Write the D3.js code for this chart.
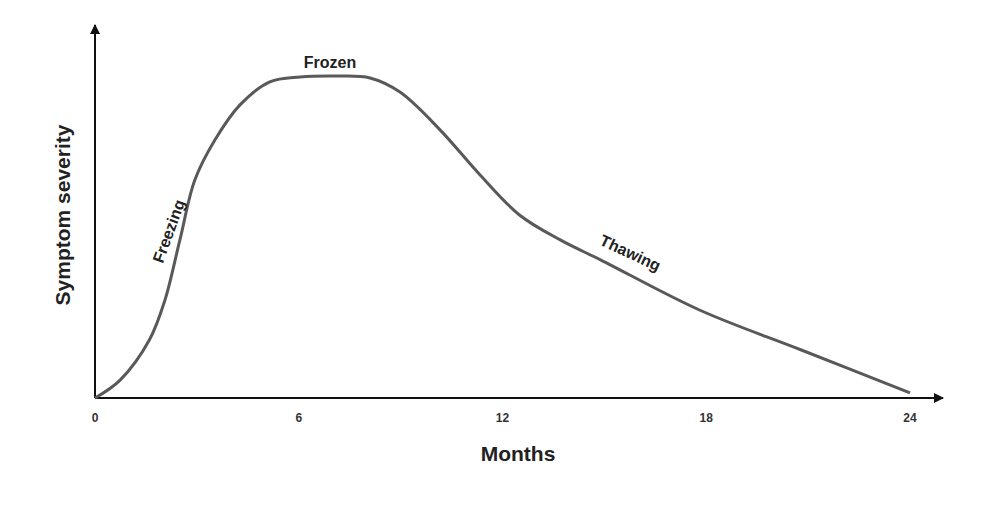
<!DOCTYPE html>
<html><head><meta charset="utf-8">
<script src="https://cdn.jsdelivr.net/npm/d3@7"></script>
<style>body{margin:0;background:#fff}</style>
</head><body>
<svg id="chart" width="1000" height="514"></svg>
<script>
// months and symptom severity (0-100)
var months = [0, 0.74, 1.6, 2.06, 2.5, 2.94, 3.53, 4.27, 5.15, 6.04, 7.2, 8.1, 8.98, 10.16, 11.34, 12.5, 13.7, 14.9, 17.8, 20.8, 24];
var severity = [0, 5.6, 18.1, 30.6, 49.4, 68.1, 80.6, 91.6, 98.8, 100.3, 100.6, 100, 95.6, 83.8, 69.7, 57.2, 49.4, 43.1, 27.5, 15, 1.6];
var tickMonths = [0, 6, 12, 18, 24];

var svg = d3.select('#chart');
var font = 'Arial, "Liberation Sans", sans-serif';
var x = d3.scaleLinear().domain([0, 24]).range([95, 910]);
var y = d3.scaleLinear().domain([0, 100]).range([398, 78]);

svg.append('defs').append('marker')
    .attr('id', 'arr').attr('viewBox', '0 0 10 10').attr('refX', 9).attr('refY', 5)
    .attr('markerWidth', 10).attr('markerHeight', 10).attr('markerUnits', 'userSpaceOnUse')
    .attr('orient', 'auto')
  .append('path').attr('d', 'M0,0L10,5L0,10z').attr('fill', '#111');

// axes
svg.append('line').attr('x1', 95).attr('y1', 398).attr('x2', 943).attr('y2', 398)
    .attr('stroke', '#111').attr('stroke-width', 2).attr('marker-end', 'url(#arr)');
svg.append('line').attr('x1', 95).attr('y1', 398).attr('x2', 95).attr('y2', 25)
    .attr('stroke', '#111').attr('stroke-width', 2).attr('marker-end', 'url(#arr)');

svg.selectAll('.tick').data(tickMonths).enter().append('text')
    .attr('x', d => x(d)).attr('y', 422).attr('text-anchor', 'middle')
    .attr('font-family', font).attr('font-weight', 'bold').attr('font-size', 12).attr('fill', '#333')
    .text(d => d);

var line = d3.line().x(d => x(d[0])).y(d => y(d[1])).curve(d3.curveCatmullRom);
svg.append('path').datum(d3.zip(months, severity)).attr('d', line)
    .attr('fill', 'none').attr('stroke', '#595959').attr('stroke-width', 3);

function label(t, px, py, rot, size) {
  svg.append('text').attr('transform', 'translate(' + px + ',' + py + ') rotate(' + rot + ')')
     .attr('text-anchor', 'middle').attr('font-family', font).attr('font-weight', 'bold')
     .attr('font-size', size).attr('fill', '#222').text(t);
}
label('Frozen', 330, 68, 0, 16);
label('Freezing', 174, 233, -70, 16);
label('Thawing', 628, 258, 25, 16);
label('Months', 518, 461, 0, 21);
label('Symptom severity', 70, 215, -90, 21);
</script>
</body></html>
